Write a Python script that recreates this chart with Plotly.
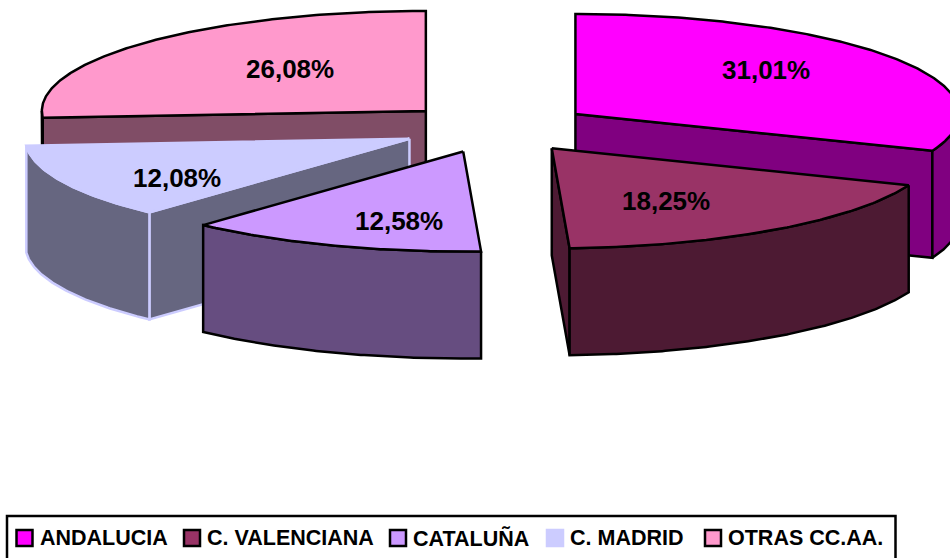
import math
import plotly.graph_objects as go

# --- data ---
categories = ["ANDALUCIA", "C. VALENCIANA", "CATALUÑA", "C. MADRID", "OTRAS CC.AA."]
shares = [31.01, 18.25, 12.58, 12.08, 26.08]

# --- styling / pie projection ---
top_colors = ["#FF00FF", "#993366", "#CC99FF", "#CCCCFF", "#FF99CC"]
wall_colors = ["#800080", "#4D1A33", "#664D80", "#666680", "#804D66"]
edge_colors = ["#000000", "#000000", "#000000", "#CCCCFF", "#000000"]
label_frac = [(0.60, 0.78), (0.51, 0.65), (0.49, 0.74), (0.67, 0.90), (0.484, 0.62)]
draw_order = [4, 0, 3, 2, 1]   # back to front
CX, CY, RX, RY, DEPTH, EXPLODE = 496, 128, 384, 100, 107, 0.25

# legend layout (left edge of each swatch and of each text)
legend_swatch_x = [24.5, 192, 398, 555, 713]
legend_text_x = [38, 205, 411, 568, 726]
LEGEND_Y = 538


def pt(apex, deg):
    a = math.radians(deg)
    return apex[0] + RX * math.sin(a), apex[1] - RY * math.cos(a)


def arc(apex, a0, a1):
    n = max(2, int(abs(a1 - a0) * 2))
    return [pt(apex, a0 + (a1 - a0) * i / n) for i in range(n + 1)]


fig = go.Figure()


def poly(points, fill, edge, width=2.5):
    fig.add_trace(go.Scatter(
        x=[p[0] for p in points] + [points[0][0]],
        y=[p[1] for p in points] + [points[0][1]],
        mode="lines", fill="toself", fillcolor=fill,
        line=dict(color=edge, width=width), showlegend=False, hoverinfo="skip"))


total = sum(shares)
starts, acc = [], 0.0
for v in shares:
    starts.append(acc)
    acc += v / total * 360
annotations = []

for i in draw_order:
    a0 = starts[i]
    a1 = a0 + shares[i] / total * 360
    mid = math.radians((a0 + a1) / 2)
    apex = (CX + EXPLODE * RX * math.sin(mid), CY - EXPLODE * RY * math.cos(mid))
    base = (apex[0], apex[1] + DEPTH)
    fill, wall, edge = top_colors[i], wall_colors[i], edge_colors[i]

    # flat cut faces that turn towards the viewer
    if math.sin(math.radians(a0)) < -1e-6:
        poly([apex, pt(apex, a0), pt(base, a0), base], wall, edge)
    if 0 < a1 < 180:
        poly([apex, pt(apex, a1), pt(base, a1), base], wall, edge)

    # outer curved wall (front half of the ellipse only)
    lo, hi = max(a0, 90), min(a1, 270)
    if lo < hi:
        poly(arc(apex, lo, hi) + arc(base, hi, lo), wall, edge)

    # top face
    poly([apex] + arc(apex, a0, a1), fill, edge)

    fx, fy = label_frac[i]
    annotations.append(dict(
        x=apex[0] + fx * RX * math.sin(mid), y=apex[1] - fy * RY * math.cos(mid),
        xref="x", yref="y", showarrow=False,
        text="<b>" + f"{shares[i]:.2f}%".replace(".", ",") + "</b>",
        font=dict(family="Liberation Sans", size=26, color="#000000")))

# legend: framed row of swatches and texts
for i, name in enumerate(categories):
    annotations.append(dict(
        x=legend_text_x[i], y=LEGEND_Y, xref="x", yref="y", xanchor="left", yanchor="middle",
        showarrow=False, text="<b>" + name + "</b>",
        font=dict(family="Liberation Sans", size=21.5, color="#000000")))

fig.add_trace(go.Scatter(
    x=legend_swatch_x, y=[LEGEND_Y] * len(categories), mode="markers",
    marker=dict(symbol="square", size=16, color=top_colors,
                line=dict(color=edge_colors, width=2.5)),
    showlegend=False, hoverinfo="skip"))

fig.update_layout(
    width=950, height=558, margin=dict(l=0, r=0, t=0, b=0),
    paper_bgcolor="white", plot_bgcolor="white", showlegend=False,
    xaxis=dict(range=[0, 950], visible=False, domain=[0, 1]),
    yaxis=dict(range=[558, 0], visible=False, domain=[0, 1]),
    annotations=annotations,
    shapes=[dict(type="rect", xref="x", yref="y", x0=7, x1=895.5, y0=516, y1=575,
                 line=dict(color="#000000", width=2.5), fillcolor="white", layer="below")],
)
fig.write_html("out.html", config={"displayModeBar": False},
               post_script="document.body.style.margin='0';document.documentElement.style.overflow='hidden';")
